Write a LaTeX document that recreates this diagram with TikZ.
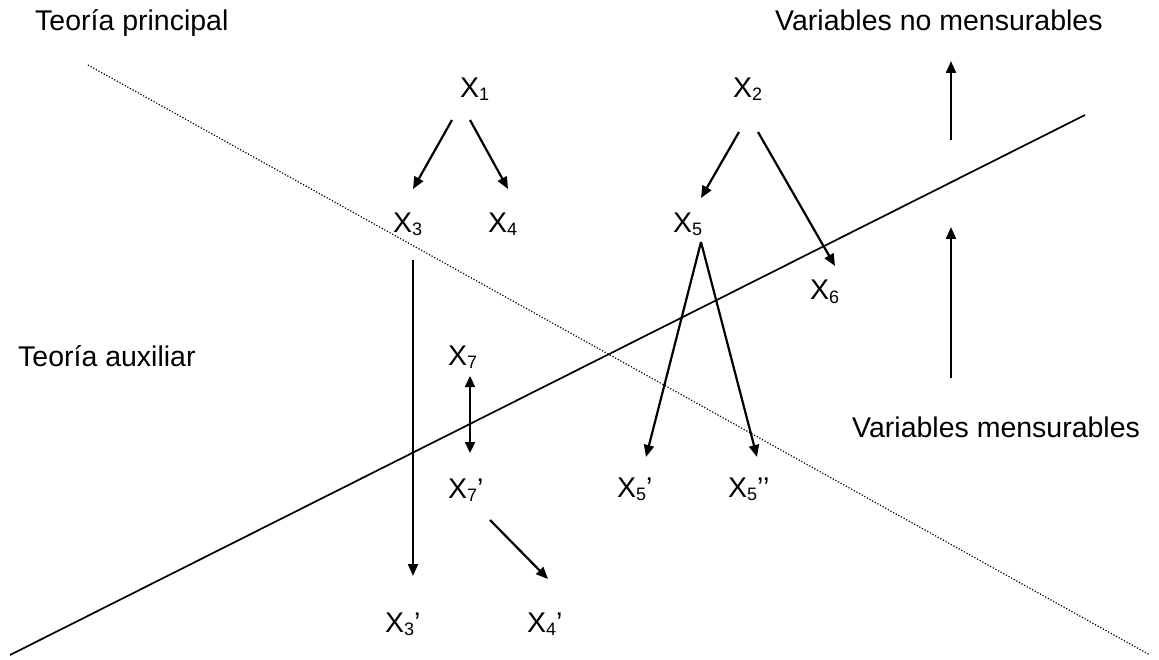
\documentclass[tikz,border=0pt]{standalone}
\usepackage{fontspec}
\setmainfont{Liberation Sans}
\usetikzlibrary{arrows.meta}
\newcommand\Xv[2]{X\raisebox{-3pt}{\fontsize{18}{18}\selectfont #1}#2}
\begin{document}
\begin{tikzpicture}[x=1pt,y=-1pt,
  lbl/.style={inner sep=0pt,anchor=base west,font=\fontsize{28.5}{34}\selectfont},
  arr/.style={line width=2.2pt,-{Triangle[length=12pt,width=10pt]}},
  darr/.style={line width=2.2pt,{Triangle[length=11pt,width=10pt]}-{Triangle[length=11pt,width=10pt]}},
  axis/.style={line width=1.7pt},
  dotline/.style={line width=1.2pt,dash pattern=on 1.2pt off 1.8pt}]
\useasboundingbox (0,0) rectangle (1159,660);
% texts
\node[lbl] (tp) at (35,31) {Teoría principal};
\node[lbl] (vnm) at (775,31) {Variables no mensurables};
\node[lbl] (ta) at (18,366) {Teoría auxiliar};
\node[lbl] (vm) at (852,437) {Variables mensurables};
\node[lbl] (x1) at (460,98) {\Xv{1}{}};
\node[lbl] (x2) at (733,98) {\Xv{2}{}};
\node[lbl] (x3) at (393,233) {\Xv{3}{}};
\node[lbl] (x4) at (488,233) {\Xv{4}{}};
\node[lbl] (x5) at (673,233) {\Xv{5}{}};
\node[lbl] (x6) at (810,300) {\Xv{6}{}};
\node[lbl] (x7) at (448,365) {\Xv{7}{}};
\node[lbl] (x7p) at (448,498) {\Xv{7}{’}};
\node[lbl] (x5p) at (617,497) {\Xv{5}{’}};
\node[lbl] (x5pp) at (728,497) {\Xv{5}{’’}};
\node[lbl] (x3p) at (385,632) {\Xv{3}{’}};
\node[lbl] (x4p) at (527,632) {\Xv{4}{’}};
% arrow end points
\coordinate (x1l) at (452,120); \coordinate (x3t) at (413,189);
\coordinate (x1r) at (470,120); \coordinate (x4t) at (508,189);
\coordinate (x2l) at (739,132); \coordinate (x5t) at (701,198);
\coordinate (x2r) at (758,132); \coordinate (x6t) at (835,266);
\coordinate (x5b) at (701,242); \coordinate (x5pt) at (646,457); \coordinate (x5ppt) at (757,457);
\coordinate (x3b) at (413,260); \coordinate (x3pt) at (413,576);
\coordinate (x7b) at (470,376); \coordinate (x7pt) at (470,453);
\coordinate (x7pb) at (490,520); \coordinate (x4pt) at (548,579);
\coordinate (u1b) at (951,140); \coordinate (u1t) at (951,61);
\coordinate (u2b) at (951,378); \coordinate (u2t) at (951,227);
\coordinate (s1) at (10,655); \coordinate (s2) at (1085,115);
\coordinate (d1) at (88,65); \coordinate (d2) at (1150,655);
% lines
\draw[dotline] (d1) -- (d2);
\draw[axis] (s1) -- (s2);
% arrows
\draw[arr] (x1l) -- (x3t);
\draw[arr] (x1r) -- (x4t);
\draw[arr] (x2l) -- (x5t);
\draw[arr] (x2r) -- (x6t);
\draw[arr] (x5b) -- (x5pt);
\draw[arr] (x5b) -- (x5ppt);
\draw[arr] (x3b) -- (x3pt);
\draw[darr] (x7b) -- (x7pt);
\draw[arr] (x7pb) -- (x4pt);
\draw[arr] (u1b) -- (u1t);
\draw[arr] (u2b) -- (u2t);
\end{tikzpicture}
\end{document}
